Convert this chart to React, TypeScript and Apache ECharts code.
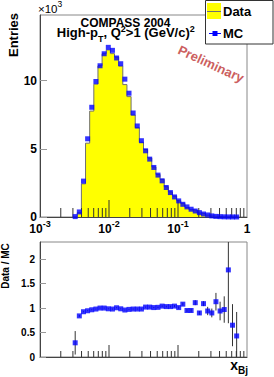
import React, { useEffect, useRef } from "react";
import * as echarts from "echarts";

// Binning: 50 bins in log10(x_Bj) from -3 to 0
const LOG_X_MIN = -3;
const BIN_WIDTH_LOG = 0.06;
const FIRST_BIN = 8;

// MC (x10^3 entries), bins 8..47
const MC = [0.03, 0.37, 2.63, 5.73, 8.04, 9.93, 11.08, 11.96, 12.43, 12.21, 11.65, 11.23, 10.1, 9.07, 7.62, 6.67, 5.59, 4.85, 4.24, 3.63, 3.07, 2.65, 2.16, 1.79, 1.47, 1.18, 0.93, 0.74, 0.57, 0.44, 0.32, 0.22, 0.15, 0.08, 0.045, 0.025, 0.013, 0.007, 0.004, 0.002];
// Data (x10^3 entries), bins 8..47
const DATA = [0.009, 0.31, 2.43, 5.41, 7.76, 9.73, 11.08, 11.96, 12.24, 11.97, 11.72, 11.06, 9.7, 8.82, 7.47, 6.54, 5.48, 4.95, 4.32, 3.67, 3.12, 2.76, 2.22, 1.84, 1.53, 1.19, 1.0, 0.7, 0.54, 0.49, 0.29, 0.24, 0.14, 0.072, 0.051, 0.024, 0.013, 0.012, 0.003, 0.001];
// Data / MC ratio, bins 8..47
const RATIO = [0.29, 0.84, 0.925, 0.945, 0.965, 0.98, 1.0, 1.0, 0.985, 0.98, 1.006, 0.985, 0.96, 0.973, 0.98, 0.98, 0.98, 1.02, 1.02, 1.01, 1.015, 1.04, 1.03, 1.03, 1.04, 1.01, 1.08, 0.95, 0.95, 1.11, 0.9, 1.09, 0.94, 0.9, 1.13, 0.94, 0.97, 1.78, 0.65, 0.43];
const RATIO_ERR = [0.24, 0.02, 0.01, 0.01, 0.01, 0.01, 0.01, 0.01, 0.01, 0.01, 0.01, 0.01, 0.01, 0.01, 0.01, 0.01, 0.01, 0.01, 0.01, 0.012, 0.014, 0.016, 0.018, 0.02, 0.022, 0.025, 0.03, 0.03, 0.04, 0.05, 0.04, 0.05, 0.085, 0.09, 0.18, 0.19, 0.27, 1.09, 0.43, 0.49];

const MAJOR_X_TICKS = [0.01, 0.1];
const MINOR_X_TICKS = [0.002, 0.003, 0.004, 0.005, 0.006, 0.007, 0.008, 0.009, 0.02, 0.03, 0.04, 0.05, 0.06, 0.07, 0.08, 0.09, 0.2, 0.3, 0.4, 0.5, 0.6, 0.7, 0.8, 0.9];

const Y1_MAX = 14.8;
const Y2_MAX = 2.35;
const FONT_NAME = "Liberation Sans";
const FONT = "'Liberation Sans', Arial, Helvetica, sans-serif";

const binEdge = (i: number) => Math.pow(10, LOG_X_MIN + BIN_WIDTH_LOG * i);
const binCenter = (i: number) => Math.pow(10, LOG_X_MIN + BIN_WIDTH_LOG * (i + 0.5));

let measureCtx: CanvasRenderingContext2D | null = null;
function textWidth(text: string, size: number, bold: boolean) {
  if (!measureCtx) measureCtx = document.createElement("canvas").getContext("2d");
  if (!measureCtx) return text.length * size * 0.55;
  measureCtx.font = (bold ? "bold " : "") + size + "px '" + FONT_NAME + "'";
  return measureCtx.measureText(text).width;
}

type Seg = { t: string; s: number; y: number };
function segmentedText(segs: Seg[], cx: number, bold: boolean, align: "center" | "left") {
  const widths = segs.map((g) => textWidth(g.t, g.s, bold));
  const total = widths.reduce((a, b) => a + b, 0);
  let x = align === "center" ? cx - total / 2 : cx;
  return segs.map((g, k) => {
    const el = {
      type: "text",
      x,
      y: g.y,
      z: 100,
      style: {
        text: g.t,
        fontSize: g.s,
        fontWeight: bold ? "bold" : "normal",
        fontFamily: FONT,
        fill: "#000",
        align: "left",
        verticalAlign: "middle",
      },
    };
    x += widths[k];
    return el;
  });
}

function tickSeries(values: number[], len: number, xi: number, yi: number) {
  return {
    type: "custom",
    coordinateSystem: "cartesian2d",
    xAxisIndex: xi,
    yAxisIndex: yi,
    silent: true,
    z: 5,
    data: values.map((v) => [v, 0]),
    renderItem: (params: any, api: any) => {
      const p = api.coord([api.value(0), api.value(1)]);
      return {
        type: "line",
        shape: { x1: p[0], y1: p[1], x2: p[0], y2: p[1] - len },
        style: { stroke: "#333", lineWidth: 1 },
      };
    },
  };
}

export default function App() {
  const ref = useRef<HTMLDivElement>(null);
  useEffect(() => {
    if (!ref.current) return;
    const chart = echarts.init(ref.current, undefined, { renderer: "svg" });

    const histPts: number[][] = [[binEdge(FIRST_BIN), 0]];
    DATA.forEach((v, k) => {
      histPts.push([binEdge(FIRST_BIN + k), v]);
      histPts.push([binEdge(FIRST_BIN + k + 1), v]);
    });
    histPts.push([binEdge(FIRST_BIN + DATA.length), 0]);

    const mcPts = MC.map((v, k) => [binCenter(FIRST_BIN + k), v]);
    const ratioPts = RATIO.map((v, k) => [binCenter(FIRST_BIN + k), v, RATIO_ERR[k]]);

    const labelFmt = (val: number) => {
      const e = Math.round(Math.log10(val));
      if (e === 0) return "{b|1}";
      return "{b|10}{s|" + e + "}";
    };

    const baseX = {
      type: "log",
      logBase: 10,
      min: 0.001,
      max: 1,
      axisLine: { show: true, onZero: false, lineStyle: { color: "#444", width: 1 } },
      axisTick: { show: false },
      minorTick: { show: false },
      splitLine: { show: false },
      minorSplitLine: { show: false },
    };

    const titleLine2 = segmentedText(
      [
        { t: "High-p", s: 13, y: 32.2 },
        { t: "T", s: 9, y: 39.3 },
        { t: ", Q", s: 13, y: 32.2 },
        { t: "2", s: 9, y: 29.2 },
        { t: ">1 (GeV/c)", s: 13, y: 32.2 },
        { t: "2", s: 9, y: 29.2 },
      ],
      125.8,
      true,
      "center"
    );
    const times10 = segmentedText(
      [
        { t: "\u00d710", s: 11.5, y: 9.3 },
        { t: "3", s: 8.5, y: 3.8 },
      ],
      38,
      false,
      "left"
    );

    const option: any = {
      animation: false,
      grid: [
        { left: 40, top: 15, width: 207, height: 202, show: true, borderColor: "#888", borderWidth: 1, backgroundColor: "transparent", containLabel: false, outerBoundsMode: "none" },
        { left: 40, top: 242, width: 207, height: 115, show: true, borderColor: "#888", borderWidth: 1, backgroundColor: "transparent", containLabel: false, outerBoundsMode: "none" },
      ],
      xAxis: [
        {
          ...baseX,
          gridIndex: 0,
          axisLabel: {
            show: true,
            margin: 2,
            formatter: labelFmt,
            rich: {
              b: { fontSize: 12, fontWeight: "bold", fontFamily: FONT, color: "#000", lineHeight: 20 },
              s: { fontSize: 9, fontWeight: "bold", fontFamily: FONT, color: "#000", lineHeight: 12, verticalAlign: "top" },
            },
          },
        },
        { ...baseX, gridIndex: 1, axisLabel: { show: false } },
      ],
      yAxis: [
        {
          type: "value",
          gridIndex: 0,
          min: 0,
          max: Y1_MAX,
          interval: 5,
          axisLine: { show: true, onZero: false, lineStyle: { color: "#444", width: 1 } },
          axisTick: { show: true, inside: true, length: 7, lineStyle: { color: "#999" } },
          splitLine: { show: false },
          axisLabel: { margin: 3, fontSize: 12, fontWeight: "bold", fontFamily: FONT, color: "#000", showMaxLabel: false },
        },
        {
          type: "value",
          gridIndex: 1,
          min: 0,
          max: Y2_MAX,
          interval: 0.5,
          axisLine: { show: true, onZero: false, lineStyle: { color: "#444", width: 1 } },
          axisTick: { show: true, inside: true, length: 6, lineStyle: { color: "#999" } },
          splitLine: { show: false },
          axisLabel: { margin: 5, fontSize: 10, fontWeight: "bold", fontFamily: FONT, color: "#000", showMaxLabel: false },
        },
      ],
      series: [
        {
          type: "line",
          xAxisIndex: 0,
          yAxisIndex: 0,
          data: histPts,
          symbol: "none",
          silent: true,
          lineStyle: { color: "#707070", width: 1 },
          areaStyle: { color: "#ffff00", opacity: 1 },
          z: 2,
        },
        tickSeries(MINOR_X_TICKS, 9, 0, 0),
        tickSeries(MAJOR_X_TICKS, 17, 0, 0),
        {
          type: "scatter",
          xAxisIndex: 0,
          yAxisIndex: 0,
          data: mcPts,
          symbol: "rect",
          symbolSize: 5,
          silent: true,
          itemStyle: { color: "#0000ff" },
          z: 6,
        },
        tickSeries(MINOR_X_TICKS, 6, 1, 1),
        tickSeries(MAJOR_X_TICKS, 12, 1, 1),
        {
          type: "custom",
          coordinateSystem: "cartesian2d",
          xAxisIndex: 1,
          yAxisIndex: 1,
          silent: true,
          z: 5,
          data: ratioPts,
          renderItem: (params: any, api: any) => {
            const x = api.value(0);
            const r = api.value(1);
            const e = api.value(2);
            const lo = Math.max(r - e, 0);
            const hi = Math.min(r + e, Y2_MAX);
            const p1 = api.coord([x, lo]);
            const p2 = api.coord([x, hi]);
            return {
              type: "line",
              shape: { x1: p1[0], y1: p1[1], x2: p2[0], y2: p2[1] },
              style: { stroke: "#333", lineWidth: 1 },
            };
          },
        },
        {
          type: "scatter",
          xAxisIndex: 1,
          yAxisIndex: 1,
          data: ratioPts.map((p) => [p[0], p[1]]),
          symbol: "rect",
          symbolSize: 5,
          silent: true,
          itemStyle: { color: "#0000ff" },
          z: 6,
        },
      ],
      graphic: [
        // y axis titles
        { type: "text", x: 13, y: 35, rotation: Math.PI / 2, z: 100, style: { text: "Entries", fontSize: 13, fontWeight: "bold", fontFamily: FONT, fill: "#000", align: "center", verticalAlign: "middle" } },
        { type: "text", x: 5, y: 266, rotation: Math.PI / 2, z: 100, style: { text: "Data / MC", fontSize: 10, fontWeight: "bold", fontFamily: FONT, fill: "#000", align: "center", verticalAlign: "middle" } },
        // x10^3
        ...times10,
        // titles
        { type: "text", x: 125.5, y: 22.7, z: 100, style: { text: "COMPASS 2004", fontSize: 12, fontWeight: "bold", fontFamily: FONT, fill: "#000", align: "center", verticalAlign: "middle" } },
        ...titleLine2,
        // Preliminary
        { type: "text", x: 211, y: 64, rotation: -0.43, z: 100, style: { text: "Preliminary", fontSize: 13, fontWeight: "bold", fontFamily: FONT, fill: "#cc5f5f", align: "center", verticalAlign: "middle" } },
        // legend
        { type: "rect", z: 100, shape: { x: 205.5, y: 0.5, width: 67.5, height: 43.5 }, style: { fill: "#fff", stroke: "#333", lineWidth: 1 } },
        { type: "rect", z: 101, shape: { x: 207, y: 3, width: 14, height: 16 }, style: { fill: "#ffff00", stroke: "none" } },
        { type: "line", z: 102, shape: { x1: 207, y1: 11.5, x2: 221, y2: 11.5 }, style: { stroke: "#707070", lineWidth: 1 } },
        { type: "text", x: 223, y: 11.5, z: 102, style: { text: "Data", fontSize: 13, fontWeight: "bold", fontFamily: FONT, fill: "#000", align: "left", verticalAlign: "middle" } },
        { type: "line", z: 102, shape: { x1: 209, y1: 33.5, x2: 221, y2: 33.5 }, style: { stroke: "#0000ff", lineWidth: 1 } },
        { type: "rect", z: 103, shape: { x: 212.5, y: 31, width: 5, height: 5 }, style: { fill: "#0000ff", stroke: "none" } },
        { type: "text", x: 223, y: 33.5, z: 102, style: { text: "MC", fontSize: 13, fontWeight: "bold", fontFamily: FONT, fill: "#000", align: "left", verticalAlign: "middle" } },
        // x axis title
        {
          type: "text",
          x: 248,
          y: 365,
          z: 100,
          style: {
            text: "{m|x}{d|Bj}",
            align: "right",
            verticalAlign: "middle",
            rich: {
              m: { fontSize: 14, fontWeight: "bold", fontFamily: FONT, fill: "#000", lineHeight: 20 },
              d: { fontSize: 10, fontWeight: "bold", fontFamily: FONT, fill: "#000", lineHeight: 10, verticalAlign: "bottom" },
            },
          },
        },
      ],
    };

    chart.setOption(option);
    return () => chart.dispose();
  }, []);

  return <div ref={ref} style={{ position: "fixed", left: 0, top: 0, width: 274, height: 377, background: "#fff" }} />;
}
